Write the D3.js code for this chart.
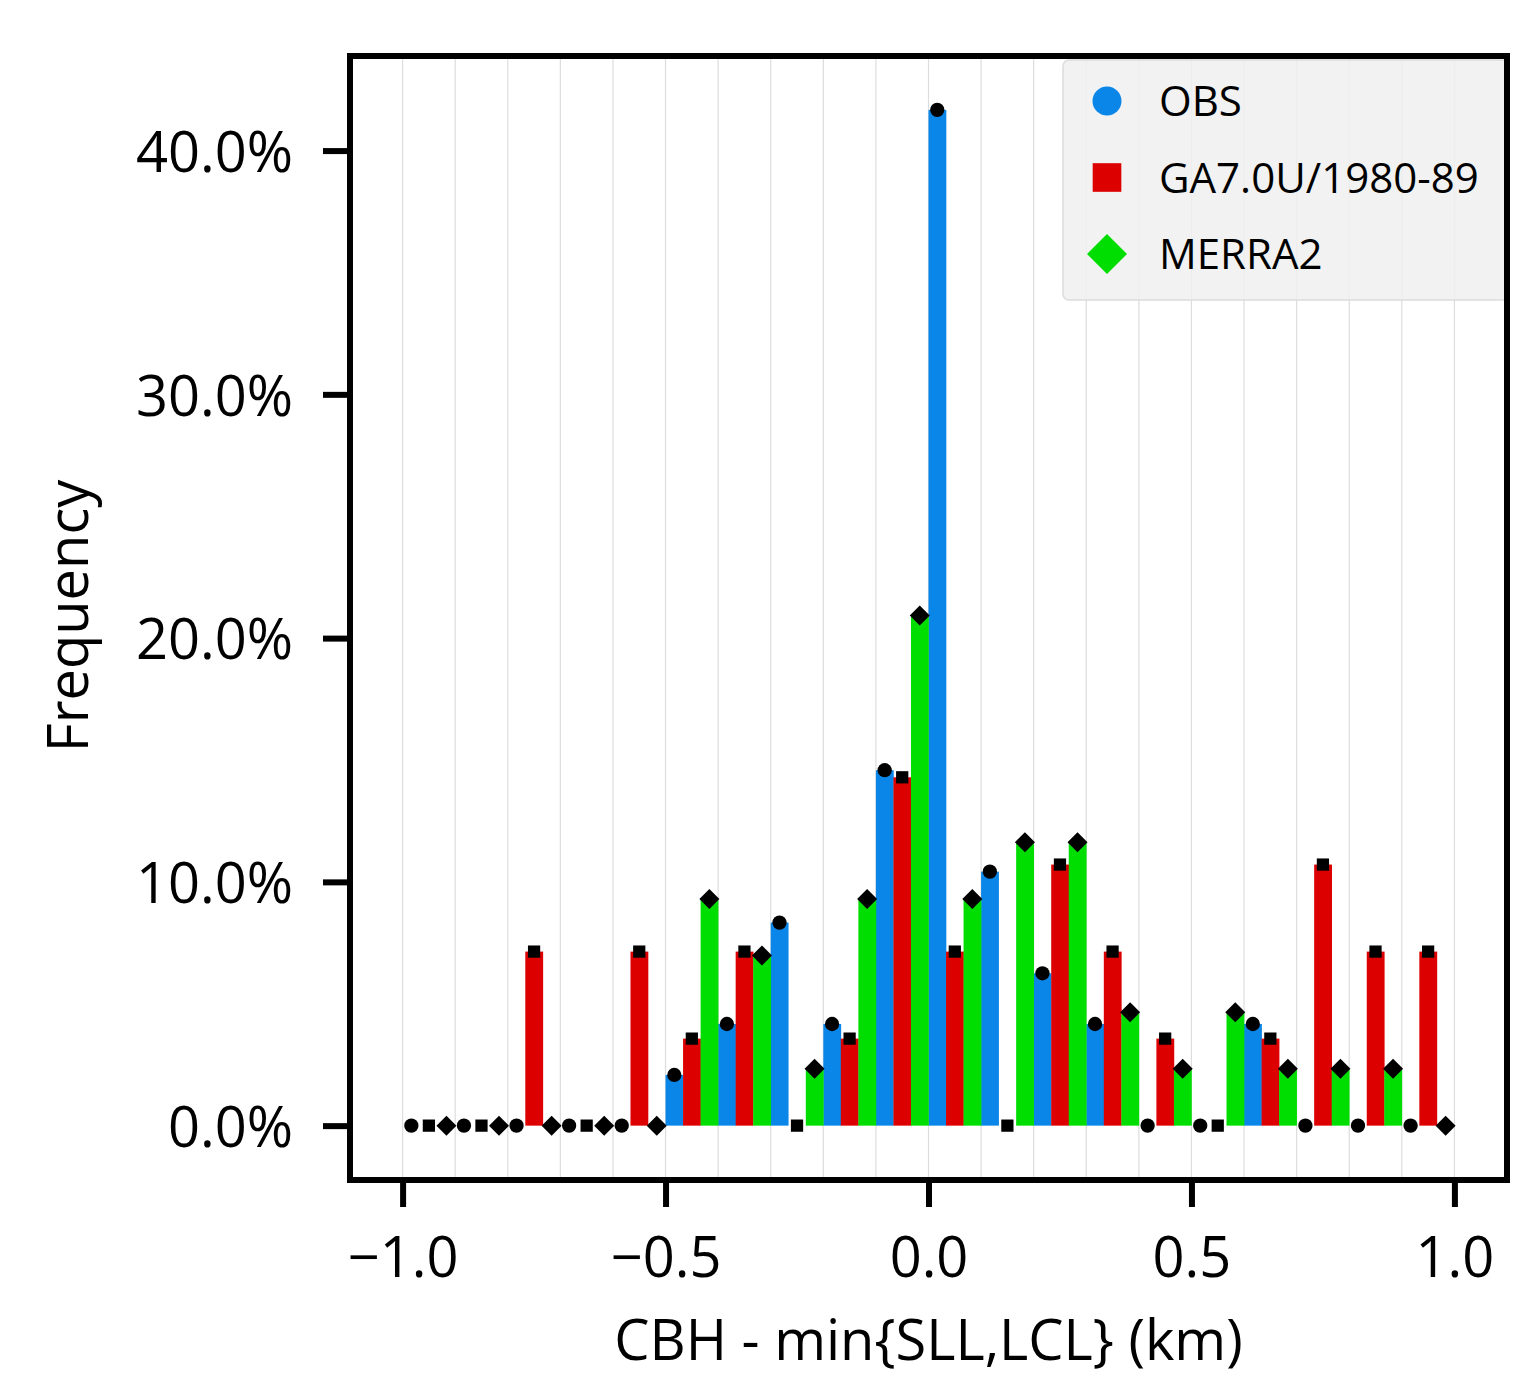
<!DOCTYPE html>
<html>
<head>
<meta charset="utf-8">
<script src="https://cdn.jsdelivr.net/npm/d3@7"></script>
<style>
  body { margin: 0; background: #fff; }
  svg text { font-family: "Open Sans", "Noto Sans", sans-serif; fill: #000; }
</style>
</head>
<body>
<svg id="chart" width="1533" height="1375"></svg>
<script>
// bin left edges (km), bin width 0.1
var binStarts = [-1.0, -0.9, -0.8, -0.7, -0.6, -0.5, -0.4, -0.3, -0.2, -0.1,
                 0.0, 0.1, 0.2, 0.3, 0.4, 0.5, 0.6, 0.7, 0.8, 0.9];
var binWidth = 0.1;

// frequencies in percent, one value per bin
var obs = [0, 0, 0, 0, 0, 2.08, 4.17, 8.33, 4.17, 14.58,
           41.67, 10.42, 6.25, 4.17, 0, 0, 4.17, 0, 0, 0];
var ga7 = [0, 0, 7.14, 0, 7.14, 3.57, 7.14, 0, 3.57, 14.29,
           7.14, 0, 10.71, 7.14, 3.57, 0, 3.57, 10.71, 7.14, 7.14];
var merra2 = [0, 0, 0, 0, 0, 9.30, 6.98, 2.33, 9.30, 20.93,
              9.30, 11.63, 11.63, 4.65, 2.33, 4.65, 2.33, 2.33, 2.33, 0];

var seriesNames = ["OBS", "GA7.0U/1980-89", "MERRA2"];
var seriesColors = ["#0a86e8", "#dd0000", "#00dd00"];
var seriesShapes = [d3.symbolCircle, d3.symbolSquare, d3.symbolSquare];
var seriesRotate = [0, 0, 45];   // diamond = square turned 45deg

var xTicks = [-1.0, -0.5, 0.0, 0.5, 1.0];
var yTicks = [0, 10, 20, 30, 40];

// plot frame
var margin = {top: 56, right: 26, bottom: 195, left: 350},
    width = 1533 - margin.left - margin.right,
    height = 1375 - margin.top - margin.bottom;

var x = d3.scaleLinear().domain([-1.1, 1.1]).range([0, width]);
var y = d3.scaleLinear().domain([-2.23, 43.88]).range([height, 0]);

var svg = d3.select("#chart");
var g = svg.append("g")
    .attr("transform", "translate(" + margin.left + "," + margin.top + ")");

// vertical grid at each bin edge
var gridVals = binStarts.concat([1.0]);
g.selectAll(".grid")
    .data(gridVals)
  .enter().append("line")
    .attr("class", "grid")
    .attr("x1", function(d) { return x(d); })
    .attr("x2", function(d) { return x(d); })
    .attr("y1", 0)
    .attr("y2", height)
    .style("stroke", "#dddddd")
    .style("stroke-width", 1.2);

var series = [obs, ga7, merra2];
var sub = binWidth / 3;

var rows = [];
series.forEach(function(vals, si) {
  vals.forEach(function(v, i) {
    rows.push({s: si, x0: binStarts[i] + si * sub, v: v});
  });
});

// bars
g.selectAll(".bar")
    .data(rows.filter(function(d) { return d.v > 0; }))
  .enter().append("rect")
    .attr("class", "bar")
    .attr("x", function(d) { return x(d.x0); })
    .attr("width", x(sub) - x(0) + 0.3)
    .attr("y", function(d) { return y(d.v); })
    .attr("height", function(d) { return y(0) - y(d.v); })
    .style("fill", function(d) { return seriesColors[d.s]; });

// black markers at bar tops
var markerSize = [160, 150, 200];
g.selectAll(".mark")
    .data(rows)
  .enter().append("path")
    .attr("class", "mark")
    .attr("transform", function(d) {
      return "translate(" + x(d.x0 + sub / 2) + "," + y(d.v) + ") rotate(" + seriesRotate[d.s] + ")";
    })
    .attr("d", function(d) {
      return d3.symbol().type(seriesShapes[d.s]).size(markerSize[d.s])();
    })
    .style("fill", "#000");

// legend
var lg = g.append("g").attr("transform", "translate(" + (1063 - margin.left) + "," + (60 - margin.top) + ")");
lg.append("rect")
    .attr("width", 445)
    .attr("height", 240)
    .attr("rx", 6)
    .style("fill", "#f0f0f0")
    .style("fill-opacity", 0.85)
    .style("stroke", "#dcdcdc")
    .style("stroke-width", 1.5);

var legendSize = [660, 820, 800];
seriesNames.forEach(function(name, i) {
  var row = lg.append("g").attr("transform", "translate(0," + (41 + i * 76.5) + ")");
  row.append("path")
      .attr("transform", "translate(44,0) rotate(" + seriesRotate[i] + ")")
      .attr("d", d3.symbol().type(seriesShapes[i]).size(legendSize[i])())
      .style("fill", seriesColors[i]);
  row.append("text")
      .attr("x", 96)
      .attr("y", 15)
      .style("font-size", "42px")
      .text(name);
});

// axes
var xAxis = g.append("g")
    .attr("transform", "translate(0," + height + ")")
    .call(d3.axisBottom(x).tickValues(xTicks).tickFormat(d3.format(".1f"))
      .tickSize(27).tickPadding(30));
var yAxis = g.append("g")
    .call(d3.axisLeft(y).tickValues(yTicks).tickFormat(function(d) { return d3.format(".1f")(d) + "%"; })
      .tickSize(27).tickPadding(30));

[xAxis, yAxis].forEach(function(a) {
  a.select(".domain").remove();
  a.selectAll(".tick line").style("stroke", "#000").style("stroke-width", 6);
  a.selectAll(".tick text")
    .style("font-size", "56px")
    .style("font-family", "'Open Sans', 'Noto Sans', sans-serif")
    .style("fill", "#000");
});
yAxis.selectAll(".tick text").attr("dy", "0.37em");
xAxis.selectAll(".tick text").attr("dy", "0.72em");

// frame
g.append("rect")
    .attr("width", width)
    .attr("height", height)
    .style("fill", "none")
    .style("stroke", "#000")
    .style("stroke-width", 6);

// axis titles
svg.append("text")
    .attr("x", margin.left + x(0))
    .attr("y", 1360)
    .attr("text-anchor", "middle")
    .style("font-size", "56px")
    .text("CBH - min{SLL,LCL} (km)");

svg.append("text")
    .attr("transform", "translate(88,616) rotate(-90)")
    .attr("text-anchor", "middle")
    .style("font-size", "56px")
    .text("Frequency");
</script>
</body>
</html>
